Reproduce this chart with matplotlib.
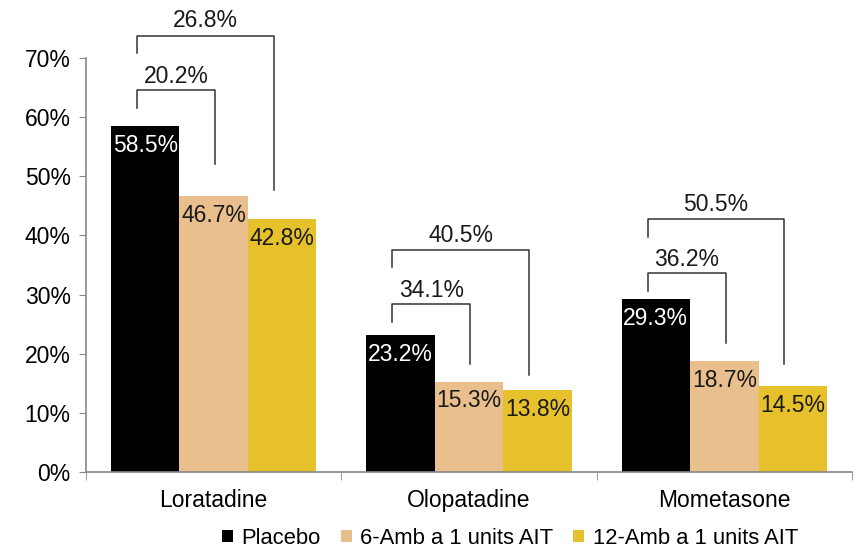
import numpy as np
import matplotlib
matplotlib.use("Agg")
import matplotlib.pyplot as plt

plt.rcParams['font.family'] = ['Liberation Sans', 'DejaVu Sans']

# data (percent)
categories = ["Loratadine", "Olopatadine", "Mometasone"]
series = ["Placebo", "6-Amb a 1 units AIT", "12-Amb a 1 units AIT"]
placebo = [58.5, 23.2, 29.3]
amb6 = [46.7, 15.3, 18.7]
amb12 = [42.8, 13.8, 14.5]
red_6 = ["20.2%", "34.1%", "36.2%"]
red_12 = ["26.8%", "40.5%", "50.5%"]

colors = ["#000000", "#E9C08D", "#E6C12B"]
label_colors = ["white", "#1a1a1a", "#1a1a1a"]

# bracket layout (percent units)
inner_top = [64.6, 28.4, 33.6]
outer_top = [73.8, 37.6, 42.8]
inner_end = [52.1, 18.3, 21.8]
outer_end = [47.7, 16.4, 18.3]

fig = plt.figure(figsize=(8.59, 5.51), dpi=100)
ax = fig.add_axes([0.1001, 0.1434, 0.8917, 0.7513])

fs = 16.5
width = 0.268
xpos = np.arange(len(categories))
values = [placebo, amb6, amb12]

for i, vals in enumerate(values):
    bars = ax.bar(xpos + (i - 1) * width, vals, width, color=colors[i], label=series[i])
    for b, v in zip(bars, vals):
        ax.annotate("%.1f%%" % v, (b.get_x() + b.get_width() / 2, v),
                    xytext=(0, -14), textcoords="offset points",
                    ha="center", va="center", fontsize=fs, color=label_colors[i])

# brackets
lc = "#333333"
for k in range(len(categories)):
    xl = xpos[k] - width - 0.032
    x6 = xpos[k] + 0.005
    x12 = xpos[k] + width - 0.033
    ax.plot([xl, xl, x6, x6], [inner_top[k] - 3, inner_top[k], inner_top[k], inner_end[k]],
            color=lc, lw=1.1, clip_on=False)
    ax.plot([xl, xl, x12, x12], [outer_top[k] - 3, outer_top[k], outer_top[k], outer_end[k]],
            color=lc, lw=1.1, clip_on=False)
    ax.annotate(red_6[k], ((xl + x6) / 2, inner_top[k]), xytext=(0, 10),
                textcoords="offset points", ha="center", va="center",
                fontsize=fs, color="#1a1a1a", annotation_clip=False)
    ax.annotate(red_12[k], ((xl + x12) / 2, outer_top[k]), xytext=(0, 10.5),
                textcoords="offset points", ha="center", va="center",
                fontsize=fs, color="#1a1a1a", annotation_clip=False)

ax.set_xlim(-0.5, 2.5)
ax.set_ylim(0, 70)
ax.set_yticks(np.arange(0, 71, 10))
ax.set_yticklabels(["%d%%" % t for t in range(0, 71, 10)])
ax.set_xticks(xpos)
ax.set_xticklabels(categories)
ax.set_xticks([-0.5, 0.5, 1.5, 2.5], minor=True)
ax.tick_params(axis="x", which="major", length=0, pad=12, labelsize=fs)
ax.tick_params(axis="x", which="minor", length=6, color="#888888", direction="out")
ax.tick_params(axis="y", length=5, color="#888888", labelsize=fs, pad=6)

for s in ["top", "right"]:
    ax.spines[s].set_visible(False)
for s in ["left", "bottom"]:
    ax.spines[s].set_color("#888888")
    ax.spines[s].set_linewidth(1.2)

leg = fig.legend(loc="lower center", bbox_to_anchor=(0.594, -0.02), ncol=3,
                 frameon=False, fontsize=15.8, handlelength=0.5, handleheight=0.5,
                 handletextpad=0.4, columnspacing=0.9, borderaxespad=0.2)

fig.savefig("out.png", dpi=100)
